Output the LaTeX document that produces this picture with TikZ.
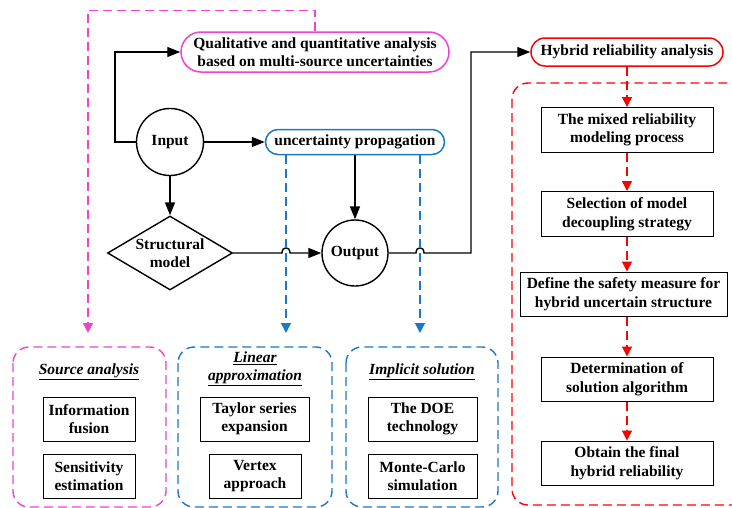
\documentclass[tikz,border=0pt]{standalone}
\usepackage{fontspec}
\setmainfont{Liberation Serif}
\usetikzlibrary{positioning,arrows.meta,calc,shapes.geometric}
\definecolor{pinkline}{RGB}{240,65,210}
\definecolor{blueline}{RGB}{25,120,200}
\definecolor{redline}{RGB}{255,0,0}

\begin{document}
\begin{tikzpicture}[x=1pt,y=-1pt,
  every node/.style={font=\fontsize{15.5}{18.5}\selectfont\bfseries,align=center,inner sep=0pt},
  line/.style={line width=1.4pt,-{Triangle[length=13pt,width=10pt]}},
  box/.style={draw,line width=1pt,minimum height=44pt},
  pill/.style={draw,line width=1.5pt},
  dsh/.style={line width=1.4pt,dash pattern=on 9pt off 5pt},
  dsharrow/.style={dsh,-{Triangle[length=10pt,width=10pt]}},
  group/.style={dsh,rounded corners=16pt}
]
  \useasboundingbox (0,0) rectangle (732,507);

  % main flow
  \node[pill,draw=pinkline,rounded corners=20pt,minimum width=268pt,minimum height=40pt] (qa) at (315,52)
    {Qualitative and quantitative analysis\\based on multi-source uncertainties};
  \node[draw,circle,line width=1.4pt,minimum size=67pt] (in) at (170,142) {Input};
  \node[pill,draw=blueline,rounded corners=12.5pt,minimum width=179pt,minimum height=25pt] (up) at (355,142) {uncertainty propagation};
  \node[draw,diamond,aspect=1.7,line width=1.4pt,minimum width=125pt,minimum height=74pt] (sm) at (170,253) {Structural\\model};
  \node[draw,circle,line width=1.4pt,minimum size=66pt] (out) at (355,253) {Output};
  \node[pill,draw=redline,rounded corners=14pt,minimum width=192pt,minimum height=28pt] (hyb) at (627,52) {Hybrid reliability analysis};

  % arrow targets above the groups
  \coordinate (sa) at (88,333);
  \coordinate (la) at (286,333);
  \coordinate (is) at (420,333);

  \draw[line] (in.west) -- ++(-21,0) |- (qa.west);
  \draw[line] (in.east) -- (up.west);
  \draw[line] (in.south) -- (sm.north);
  \draw[line] (up.south) -- (out.north);
  \draw[line] (sm.east) -- ([xshift=-4pt]sm.east -| la) .. controls +(0,-7) and +(0,-7) .. +(8,0) -- (out.west);
  \draw[line] (out.east) -- ([xshift=-4pt]out.east -| is) .. controls +(0,-7) and +(0,-7) .. +(8,0) -- (471,253) |- (hyb.west);

  % dashed links
  \draw[dsharrow,pinkline] (qa.north) -- ++(0,-21) -| (sa);
  \draw[dsharrow,blueline] (up.south -| la) -- (la);
  \draw[dsharrow,blueline] (up.south -| is) -- (is);

  % groups
  \draw[group,pinkline] (13,347) rectangle (166,507);
  \draw[group,blueline] (178,347) rectangle (332,507);
  \draw[group,blueline] (346,347) rectangle (498,507);
  \draw[group,redline] (512,83) rectangle (748,505);

  % source analysis
  \node (sat) at (89,372) {\itshape\underline{Source analysis}};
  \node[box,minimum width=92pt] (fus) at (89,419) {Information\\fusion};
  \node[box,minimum width=92pt] (sen) at (89,476) {Sensitivity\\estimation};

  % linear approximation
  \node (lat) at (255,369) {\itshape\underline{Linear}\\\itshape\underline{approximation}};
  \node[box,minimum width=109pt] (tay) at (254.5,419) {Taylor series\\expansion};
  \node[box,minimum width=92pt] (ver) at (255,476) {Vertex\\approach};

  % implicit solution
  \node (ist) at (422,372) {\itshape\underline{Implicit solution}};
  \node[box,minimum width=109pt] (doe) at (422.5,419) {The DOE\\technology};
  \node[box,minimum width=109pt] (mc) at (422.5,476) {Monte-Carlo\\simulation};

  % hybrid reliability steps
  \node[box,minimum width=172pt,minimum height=45pt] (m1) at (627,130) {The mixed reliability\\modeling process};
  \node[box,minimum width=172pt,minimum height=45pt] (m2) at (627,214) {Selection of model\\decoupling strategy};
  \node[box,minimum width=207pt] (m3) at (623.5,294) {Define the safety measure for\\hybrid uncertain structure};
  \node[box,minimum width=172pt] (m4) at (627,379) {Determination of\\solution algorithm};
  \node[box,minimum width=172pt] (m5) at (627,463) {Obtain the final\\hybrid reliability};

  \draw[dsharrow,redline] (hyb.south) -- (m1.north);
  \draw[dsharrow,redline] (m1.south) -- (m2.north);
  \draw[dsharrow,redline] (m2.south) -- (m2.south |- m3.north);
  \draw[dsharrow,redline] (m3.south -| m4) -- (m4.north);
  \draw[dsharrow,redline] (m4.south) -- (m5.north);
\end{tikzpicture}
\end{document}
